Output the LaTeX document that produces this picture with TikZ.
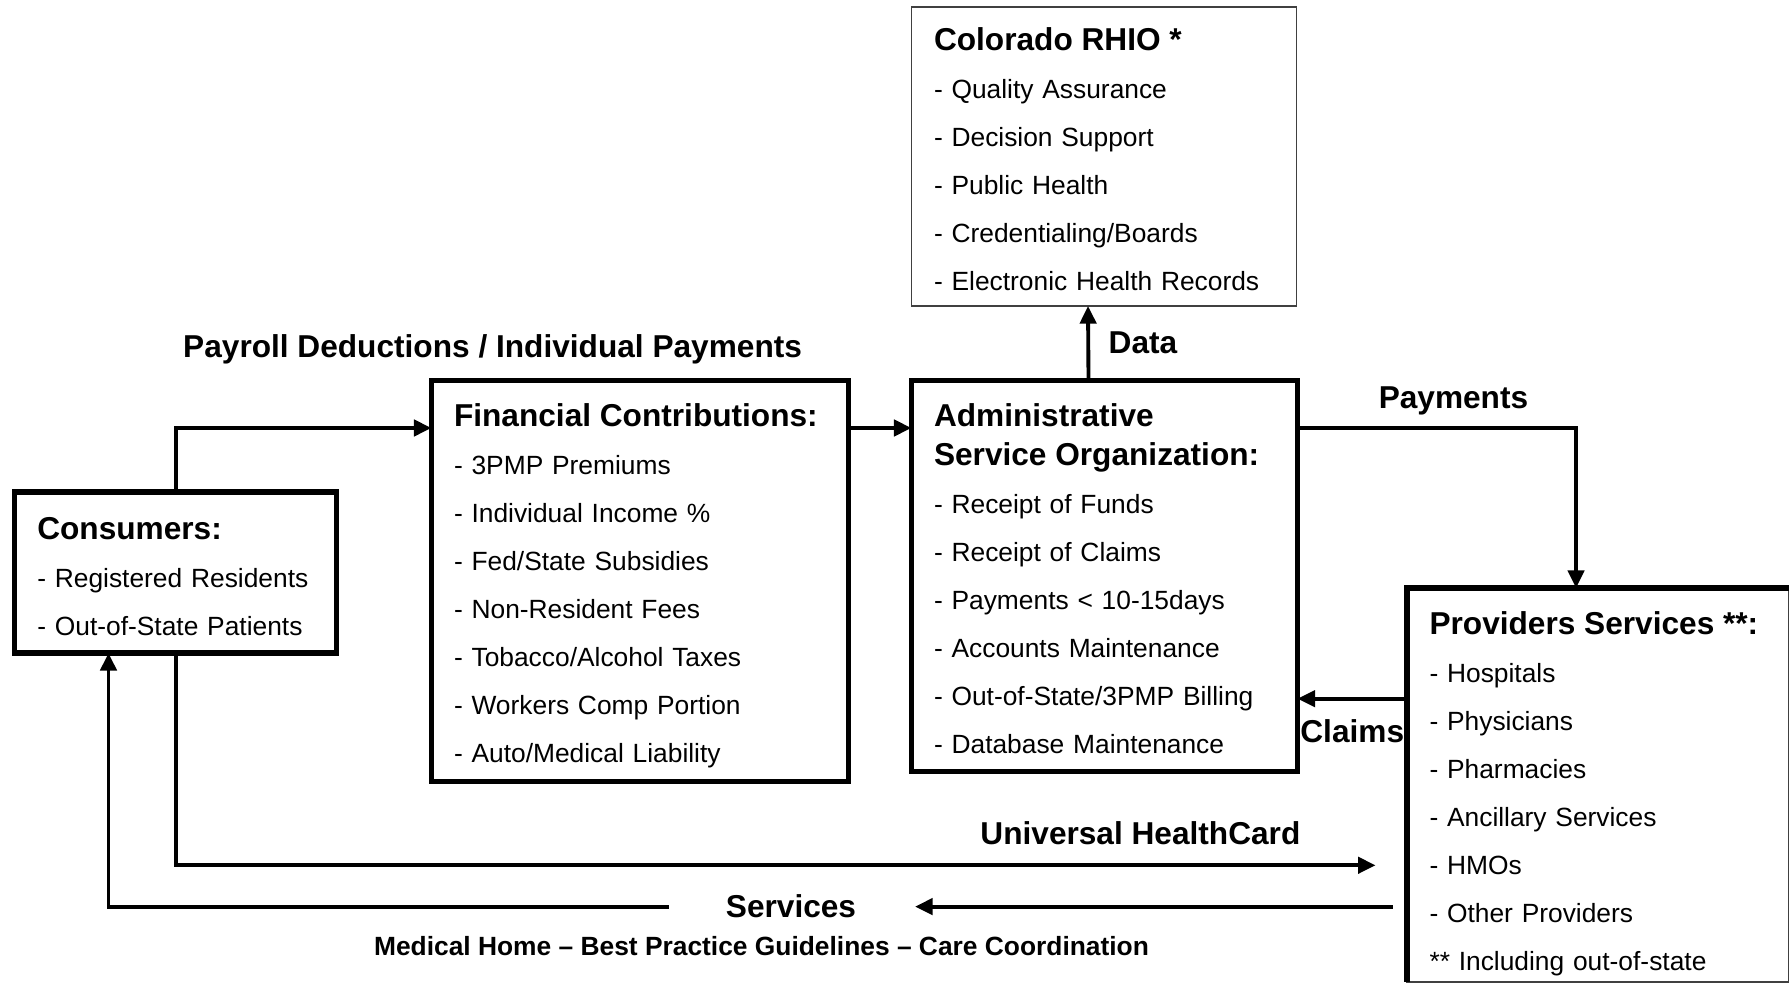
\documentclass[tikz,border=0pt]{standalone}
\usepackage{fontspec}
\setmainfont{Liberation Sans}
\usetikzlibrary{arrows.meta,positioning}
\newcommand\itemfont{\fontsize{7.5}{13.66}\selectfont}
\newcommand\headfont{\fontsize{9}{13.66}\selectfont\bfseries}

\begin{document}
\begin{tikzpicture}[->,>={Triangle[length=5pt,width=4.6pt]},line width=1.1pt,
  box/.style={draw,line width=1.5pt,align=left,inner xsep=0.225cm,inner ysep=0pt,outer sep=0pt,font=\itemfont},
  thinbox/.style={box,line width=0.5pt,draw=black!75},
  lbl/.style={font=\headfont,inner sep=1pt}]
\useasboundingbox (0,0) rectangle (17.9,-9.85);

\node[box,text width=3.72cm,minimum height=4.01cm,anchor=north west] (fin) at (4.315,-3.802)
  {{\headfont\rule{0pt}{9.2pt}Financial Contributions:}\\
   - 3PMP Premiums\\
   - Individual Income \%\\
   - Fed/State Subsidies\\
   - Non-Resident Fees\\
   - Tobacco/Alcohol Taxes\\
   - Workers Comp Portion\\
   - Auto/Medical Liability};
\node[box,text width=2.77cm,minimum height=1.61cm] (cons) [below left=1.118cm and 0.947cm of fin.north west]
  {{\headfont\rule{0pt}{8.6pt}Consumers:}\\
   - Registered Residents\\
   - Out-of-State Patients};
\node[box,text width=3.41cm,minimum height=3.915cm] (aso) [right=0.63cm of fin.north east,anchor=north west]
  {{\headfont\rule{0pt}{7.9pt}Administrative}\\[-2.62pt]
   {\headfont Service Organization:}\\
   - Receipt of Funds\\
   - Receipt of Claims\\
   - Payments < 10-15days\\
   - Accounts Maintenance\\
   - Out-of-State/3PMP Billing\\
   - Database Maintenance};
\node[thinbox,text width=3.40cm,minimum height=2.99cm] (rhio) [above=0.742cm of aso.north west,anchor=south west]
  {{\headfont\rule{0pt}{8.2pt}Colorado RHIO *}\\
   - Quality Assurance\\
   - Decision Support\\
   - Public Health\\
   - Credentialing/Boards\\
   - Electronic Health Records};
\node[thinbox,text width=3.365cm,minimum height=3.937cm] (prov) [below right=2.078cm and 1.095cm of aso.north east]
  {{\headfont\rule{0pt}{11.8pt}Providers Services **:}\\
   - Hospitals\\
   - Physicians\\
   - Pharmacies\\
   - Ancillary Services\\
   - HMOs\\
   - Other Providers\\
   {**} Including out-of-state};
\draw[-,line width=1.5pt] (prov.south west) |- (prov.north east);

% money and data flow
\draw (cons.north) |- ([yshift=-0.478cm]fin.north west);
\node[lbl] (payroll) at (4.926,-3.495) {Payroll Deductions / Individual Payments};
\draw ([yshift=-0.478cm]fin.north east) -- ([yshift=-0.478cm]aso.north west);
\draw ([xshift=-0.16cm]aso.north) -- node[lbl,right=0.15cm] {Data} ([xshift=-0.16cm]rhio.south);
\draw ([yshift=-0.478cm]aso.north east) -| node[lbl,pos=0.28,above=0.07cm] {Payments} ([xshift=1.69cm]prov.north west);
\coordinate (clm) at ([yshift=-1.107cm]prov.north west);
\draw (clm) -- node[lbl,below=0.15cm] {Claims} (clm -| aso.east);

% card and services
\coordinate (card) at (13.756,-8.653);
\draw (cons.south) |- node[lbl,pos=0.902,above=0.15cm] {Universal HealthCard} (card);
\node[lbl] (svc) at (7.91,-9.066) {Services};
\coordinate (svcin) at (13.928,-9.066);
\draw (svcin) -- ([xshift=0.535cm]svc.east);
\draw ([xshift=-0.515cm]svc.west) -| ([xshift=-0.673cm]cons.south);
\node[lbl,font=\fontsize{7.5}{9}\selectfont\bfseries] (med) at (7.615,-9.464)
  {Medical Home – Best Practice Guidelines – Care Coordination};
\end{tikzpicture}
\end{document}
